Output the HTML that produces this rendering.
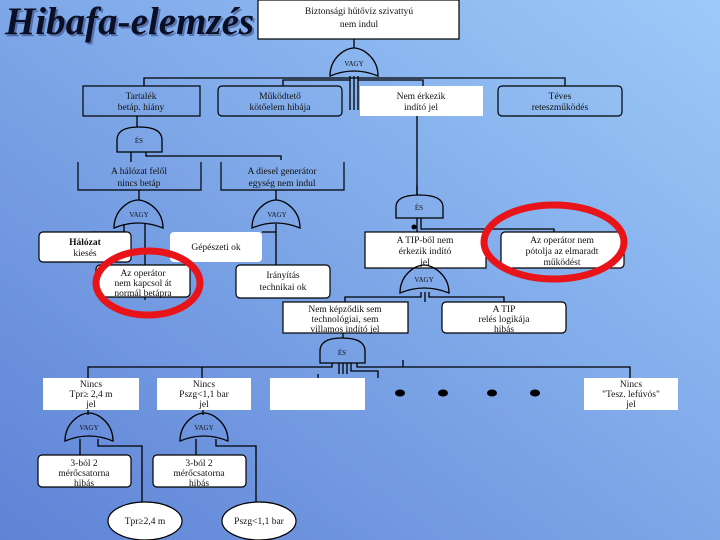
<!DOCTYPE html>
<html><head><meta charset="utf-8"><style>
html,body{margin:0;padding:0;width:720px;height:540px;overflow:hidden}
svg{position:absolute;left:0;top:0}
text{font-family:"Liberation Serif",serif;font-size:9.5px;fill:#111;text-anchor:middle}
.t{font-family:"Liberation Serif",serif;font-weight:bold;font-style:italic;font-size:39px;fill:#0a0f25;text-anchor:start}
</style></head><body>
<svg width="720" height="540" viewBox="0 0 720 540">
<defs><linearGradient id="g" x1="1" y1="0" x2="0" y2="1"><stop offset="0" stop-color="#9ccaf9"/><stop offset="1" stop-color="#5f83d6"/></linearGradient></defs>
<rect width="720" height="540" fill="url(#g)"/>
<text class="t" x="7" y="36" style="fill:#2a3a70;opacity:.5">Hibafa-elemzés</text>
<text class="t" x="5" y="34">Hibafa-elemzés</text>
<g stroke="#000" stroke-width="1.3" fill="none">
<path d="M354 39V48M144 86V78H565V86M283 86V80H350M423 86V80H358M350 76V110M354 76V110M358 76V110"/>
<path d="M137 116V127M131 152V162M146 152V156H281V160M417 116V195"/>
<path d="M139 190V200M276 190V200M417 185V195M145 224V300M124 224V232H90M276 224V265M276 224V232H262M417 218V232M421 218V229H554V232"/>
<path d="M425 292V302M421 292V297H345V302M429 292V297H504V302"/>
<path d="M343 333V338M88 378V367H332V363M343 363V374M339 363V374M347 363V374M351 363V371H378V378M202 378V367M357 363V367H630V378M318 374V378M403 360V367"/>
<path d="M88 410V415M80 439V455M98 439V446H142V503M203 410V415M196 439V455M216 439V446H256V503"/>
</g>
<g stroke="#000" stroke-width="1.2" fill="#fff">
<rect x="258" y="0" width="201" height="39"/>
<rect x="83" y="86" width="117" height="30" fill="none"/>
<rect x="218" y="86" width="124" height="30" rx="4" fill="none"/>
<rect x="360" y="86" width="123" height="30" stroke="none"/>
<rect x="498" y="86" width="124" height="30" rx="4" fill="none"/>
<path d="M78 162V190H201V162M221 162V190H344V162" fill="none"/>
<rect x="39" y="232" width="92" height="30" rx="4"/>
<rect x="170" y="232" width="92" height="30" rx="4" stroke="none"/>
<rect x="365" y="232" width="121" height="36"/>
<rect x="501" y="232" width="123" height="36" rx="4"/>
<rect x="96" y="265" width="94" height="32" rx="4"/>
<rect x="236" y="265" width="94" height="33" rx="4"/>
<rect x="283" y="302" width="125" height="31"/>
<rect x="442" y="302" width="124" height="31" rx="4"/>
<rect x="43" y="378" width="96" height="32" stroke="none"/>
<rect x="157" y="378" width="94" height="32" stroke="none"/>
<rect x="270" y="378" width="95" height="32" stroke="none"/>
<rect x="584" y="378" width="94" height="32" stroke="none"/>
<rect x="38" y="455" width="93" height="32" rx="4"/>
<rect x="153" y="455" width="93" height="32" rx="4"/>
<ellipse cx="145" cy="521" rx="37" ry="19"/>
<ellipse cx="259" cy="521" rx="37" ry="19"/>
</g>
<g stroke="#000" stroke-width="1.3" fill="none">
<path d="M330 76C330 58 345 48 354 48C363 48 378 58 378 76Q354 66 330 76Z"/>
<path d="M114 228C114 210 129 200 138 200C147 200 163 210 163 228Q138 218 114 228Z"/>
<path d="M252 228C252 210 267 200 276 200C285 200 300 210 300 228Q276 218 252 228Z"/>
<path d="M400 293C400 275 415 265 424 265C433 265 449 275 449 293Q424 283 400 293Z"/>
<path d="M65 441C65 423 80 413 89 413C98 413 113 423 113 441Q89 431 65 441Z"/>
<path d="M180 441C180 423 195 413 204 413C213 413 228 423 228 441Q204 431 180 441Z"/>
<path d="M117 152V140Q117 127 139 127Q162 127 162 140V152Z"/>
<path d="M396 218V207Q396 195 419 195Q443 195 443 207V218Z"/>
<path d="M320 363V351Q320 338 342 338Q365 338 365 351V363Z"/>
</g>
<circle cx="414" cy="227" r="2.5" fill="#000"/>
<g fill="#000"><ellipse cx="400" cy="393" rx="5" ry="3.5"/><ellipse cx="443" cy="393" rx="5" ry="3.5"/><ellipse cx="492" cy="393" rx="5" ry="3.5"/><ellipse cx="535" cy="393" rx="5" ry="3.5"/></g>
<text x="354" y="66" style="font-size:7px">VAGY</text>
<text x="139" y="217" style="font-size:7px">VAGY</text>
<text x="277" y="217" style="font-size:7px">VAGY</text>
<text x="424" y="282" style="font-size:7px">VAGY</text>
<text x="89" y="430" style="font-size:7px">VAGY</text>
<text x="204" y="430" style="font-size:7px">VAGY</text>
<text x="139" y="143" style="font-size:7px">ÉS</text>
<text x="419" y="210" style="font-size:7px">ÉS</text>
<text x="342" y="355" style="font-size:7px">ÉS</text>
<text x="359" y="14">Biztonsági hűtővíz szivattyú</text>
<text x="359" y="27">nem indul</text>
<text x="141" y="99">Tartalék</text><text x="141" y="110">betáp. hiány</text>
<text x="280" y="99">Működtető</text><text x="280" y="110">kötőelem hibája</text>
<text x="421" y="99">Nem érkezik</text><text x="421" y="110">indító jel</text>
<text x="560" y="99">Téves</text><text x="560" y="110">reteszműködés</text>
<text x="139" y="174">A hálózat felől</text><text x="139" y="186">nincs betáp</text>
<text x="282" y="174">A diesel generátor</text><text x="282" y="186">egység nem indul</text>
<text x="85" y="245" style="font-weight:bold">Hálózat</text><text x="85" y="256">kiesés</text>
<text x="216" y="250">Gépészeti ok</text>
<text x="425" y="243">A TIP-ből nem</text><text x="425" y="254">érkezik indító</text><text x="425" y="265">jel</text>
<text x="562" y="243">Az operátor nem</text><text x="562" y="254">pótolja az elmaradt</text><text x="562" y="265">működést</text>
<text x="143" y="276">Az operátor</text><text x="143" y="286">nem kapcsol át</text><text x="143" y="296">normál betápra</text>
<text x="283" y="278">Irányítás</text><text x="283" y="290">technikai ok</text>
<text x="345" y="312">Nem képződik sem</text><text x="345" y="322">technológiai, sem</text><text x="345" y="332">villamos indító jel</text>
<text x="504" y="312">A TIP</text><text x="504" y="322">relés logikája</text><text x="504" y="332">hibás</text>
<text x="91" y="387">Nincs</text><text x="91" y="397">Tpr≥ 2,4 m</text><text x="91" y="407">jel</text>
<text x="204" y="387">Nincs</text><text x="204" y="397">Pszg&lt;1,1 bar</text><text x="204" y="407">jel</text>
<text x="631" y="387">Nincs</text><text x="631" y="397">"Tesz. lefúvós"</text><text x="631" y="407">jel</text>
<text x="84" y="466">3-ból 2</text><text x="84" y="476">mérőcsatorna</text><text x="84" y="486">hibás</text>
<text x="199" y="466">3-ból 2</text><text x="199" y="476">mérőcsatorna</text><text x="199" y="486">hibás</text>
<text x="145" y="524">Tpr≥2,4 m</text>
<text x="259" y="524">Pszg&lt;1,1 bar</text>
<g stroke="#e8141a" stroke-width="7" fill="none">
<ellipse cx="148" cy="283" rx="52" ry="32"/>
<ellipse cx="554" cy="242" rx="70" ry="37"/>
</g>
</svg>
</body></html>
